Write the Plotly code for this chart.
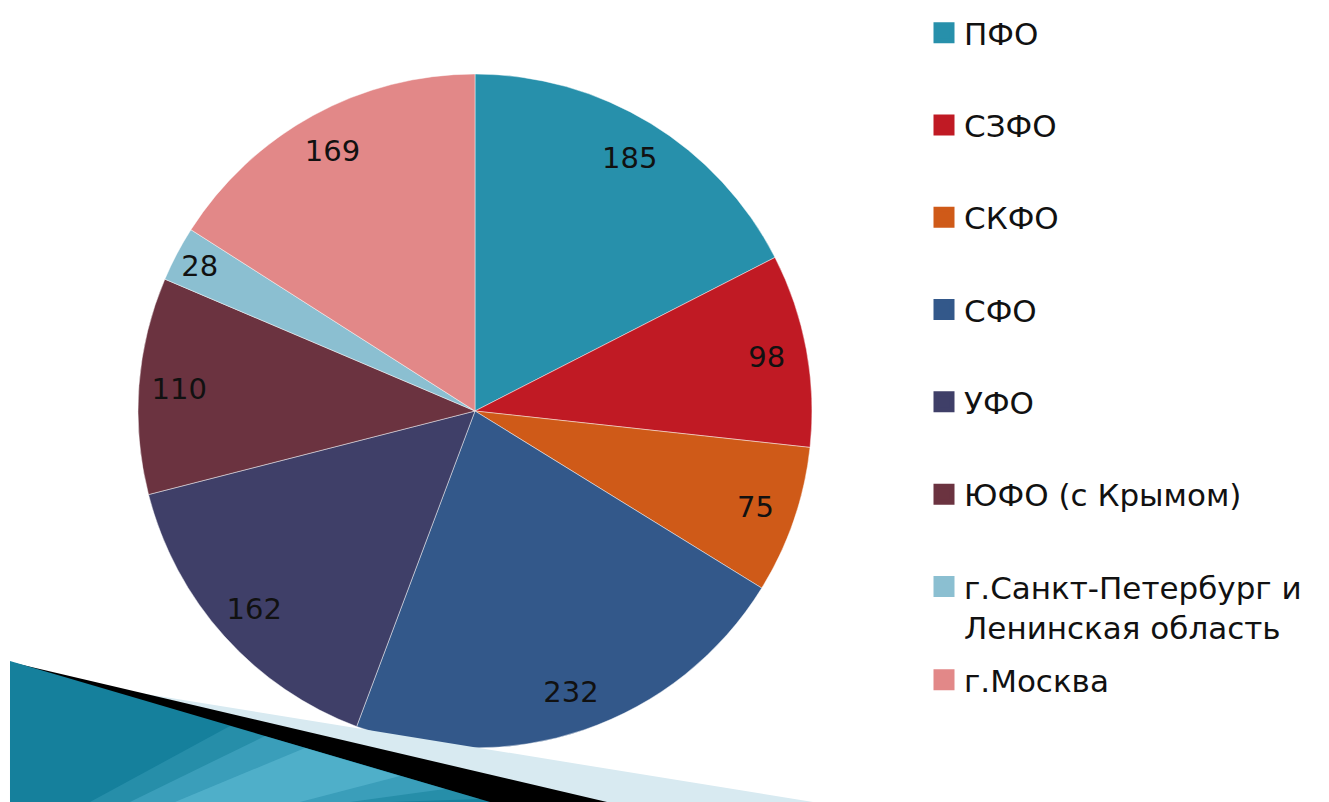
import plotly.graph_objects as go

labels = ["ПФО", "СЗФО", "СКФО", "СФО", "УФО", "ЮФО (с Крымом)",
          "г.Санкт-Петербург и<br>Ленинская область", "г.Москва"]
values = [185, 98, 75, 232, 162, 110, 28, 169]
colors = ["#2790ab", "#c01a24", "#cf5a18", "#33588a", "#3f3f68", "#6b3340", "#8bbfd1", "#e28888"]

W, H = 1329, 802
cx, cy, r = 475, 411, 337
dom = dict(x=[(cx - r) / W, (cx + r) / W], y=[1 - (cy + r) / H, 1 - (cy - r) / H])

fig = go.Figure()
# colored slices
fig.add_trace(go.Pie(
    labels=labels, values=values, sort=False, direction="clockwise", rotation=0,
    marker=dict(colors=colors, line=dict(color="rgba(255,255,255,0.45)", width=1)),
    textinfo="none", showlegend=False, hoverinfo="label+value", domain=dom,
))
# value labels placed near the rim (transparent ring carrying the text)
fig.add_trace(go.Pie(
    labels=labels, values=values, sort=False, direction="clockwise", rotation=0,
    hole=0.76, marker=dict(colors=["rgba(0,0,0,0)"] * len(values), line=dict(width=0)),
    textinfo="value", textposition="inside", insidetextorientation="horizontal",
    textfont=dict(family="DejaVu Sans", size=29, color="#111111"),
    showlegend=False, hoverinfo="skip", domain=dom,
))

for i, (lab, col) in enumerate(zip(labels, colors)):
    fig.add_trace(go.Scatter(
        x=[None], y=[None], mode="markers", name=lab, legendgroup="g%d" % i,
        legend="legend2" if i == len(labels) - 1 else "legend",
        marker=dict(symbol="square", size=16, color=col, line=dict(color=col, width=5)),
    ))

p = lambda x, y: (x / W, 1 - y / H)
def poly(pts, color):
    d = "M " + " L ".join("%f,%f" % p(*q) for q in pts) + " Z"
    return dict(type="path", path=d, xref="paper", yref="paper", fillcolor=color,
                line=dict(width=0), layer="above")

legfont = dict(family="DejaVu Sans", size=31, color="#111111")
fig.update_layout(
    width=W, height=H, margin=dict(l=0, r=0, t=0, b=0),
    paper_bgcolor="white", plot_bgcolor="white",
    xaxis=dict(visible=False), yaxis=dict(visible=False),
    legend=dict(x=924 / W, y=1 - 6 / H, xanchor="left", yanchor="top", font=legfont,
                tracegroupgap=49, valign="top", bgcolor="rgba(0,0,0,0)"),
    legend2=dict(x=924 / W, y=1 - 653 / H, xanchor="left", yanchor="top", font=legfont,
                 valign="top", bgcolor="rgba(0,0,0,0)"),
    shapes=[
        poly([(10, 672), (813, 802), (10, 802)], "#d8eaf1"),
        poly([(10, 662), (607, 802), (10, 802)], "#000000"),
        poly([(10, 661), (490, 802), (10, 802)], "#15809c"),
        poly([(90, 802), (390, 802), (480, 799), (230, 726)], "rgba(100,190,220,0.22)"),
        poly([(130, 802), (350, 802), (445, 789), (265, 736)], "rgba(105,195,225,0.30)"),
        poly([(175, 802), (300, 802), (400, 776), (305, 748)], "rgba(120,205,230,0.35)"),
    ],
)
fig.write_html("out.html", config={"displayModeBar": False},
               post_script="document.body.style.margin='0';document.body.style.overflow='hidden';")
